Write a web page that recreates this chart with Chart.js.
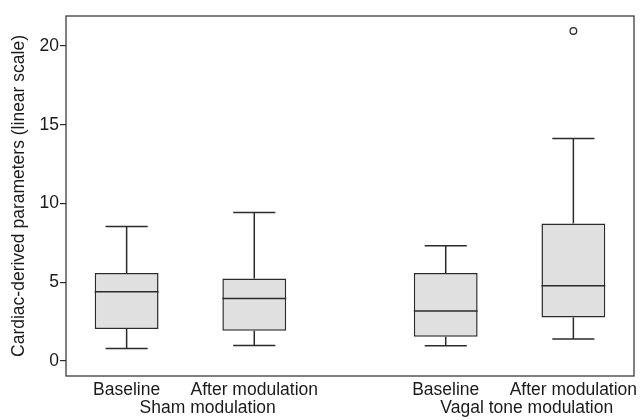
<!DOCTYPE html>
<html>
<head>
<meta charset="utf-8">
<script src="https://cdn.jsdelivr.net/npm/chart.js@4.4.0/dist/chart.umd.min.js"></script>
<style>
  html, body { margin: 0; padding: 0; background: #fff; }
  #wrap { width: 642px; height: 420px; }
</style>
</head>
<body>
<div id="wrap"><canvas id="boxChart"></canvas></div>
<script>
// categories and their position on the x axis
const categories = ['Baseline', 'After modulation', 'Baseline', 'After modulation'];
const xPositions = [1, 2, 3.5, 4.5];
const groupLabels = ['Sham modulation', 'Vagal tone modulation'];
const groupPositions = [1.635, 4.135];

// box plot statistics
const whiskerLow = [0.80, 0.99, 0.97, 1.40];
const q1 = [2.03, 1.92, 1.54, 2.77];
const median = [4.39, 3.97, 3.17, 4.78];
const q3 = [5.58, 5.24, 5.58, 8.73];
const whiskerHigh = [8.54, 9.43, 7.31, 14.12];
const outlierX = [4.5];
const outlierY = [20.95];

const yTicks = [0, 5, 10, 15, 20];

const INK = '#2b2b2b';
const FONT = "'Liberation Sans', Arial, sans-serif";

Chart.defaults.font.family = FONT;
Chart.defaults.font.size = 17.5;
Chart.defaults.color = '#1a1a1a';

// whiskers, caps, medians and the frame round the plot area
const boxPlotExtras = {
    id: 'boxPlotExtras',
    afterDatasetsDraw(chart) {
        const { ctx, chartArea, scales: { x, y } } = chart;
        const meta = chart.getDatasetMeta(0);
        const capHalf = (x.getPixelForValue(0.33) - x.getPixelForValue(0)) / 2;

        ctx.save();
        ctx.strokeStyle = INK;
        ctx.lineWidth = 1.5;
        ctx.lineCap = 'butt';

        xPositions.forEach((pos, i) => {
            const xc = x.getPixelForValue(pos);
            const bar = meta.data[i];
            const half = bar.width / 2;

            ctx.beginPath();
            // upper whisker
            ctx.moveTo(xc, y.getPixelForValue(q3[i]));
            ctx.lineTo(xc, y.getPixelForValue(whiskerHigh[i]));
            ctx.moveTo(xc - capHalf, y.getPixelForValue(whiskerHigh[i]));
            ctx.lineTo(xc + capHalf, y.getPixelForValue(whiskerHigh[i]));
            // lower whisker
            ctx.moveTo(xc, y.getPixelForValue(q1[i]));
            ctx.lineTo(xc, y.getPixelForValue(whiskerLow[i]));
            ctx.moveTo(xc - capHalf, y.getPixelForValue(whiskerLow[i]));
            ctx.lineTo(xc + capHalf, y.getPixelForValue(whiskerLow[i]));
            // median
            ctx.moveTo(xc - half, y.getPixelForValue(median[i]));
            ctx.lineTo(xc + half, y.getPixelForValue(median[i]));
            ctx.stroke();
        });

        // frame
        ctx.lineWidth = 1.2;
        ctx.strokeRect(chartArea.left, chartArea.top,
            chartArea.right - chartArea.left, chartArea.bottom - chartArea.top);

        // group labels under the tick labels
        ctx.fillStyle = '#1a1a1a';
        ctx.font = '17.5px ' + FONT;
        ctx.textAlign = 'center';
        ctx.textBaseline = 'middle';
        groupLabels.forEach((label, i) => {
            ctx.fillText(label, x.getPixelForValue(groupPositions[i]), chartArea.bottom + 32);
        });
        ctx.restore();
    }
};

const boxData = xPositions.map((pos, i) => ({ x: pos, y: [q1[i], q3[i]] }));
const outlierData = outlierX.map((v, i) => ({ x: v, y: outlierY[i] }));

new Chart(document.getElementById('boxChart'), {
    type: 'bar',
    data: {
        datasets: [
            {
                type: 'bar',
                data: boxData,
                backgroundColor: '#e0e0e0',
                borderColor: INK,
                borderWidth: 1.5,
                borderSkipped: false,
                barPercentage: 1,
                categoryPercentage: 0.5
            },
            {
                type: 'scatter',
                data: outlierData,
                pointRadius: 3.3,
                pointBackgroundColor: '#fff',
                pointBorderColor: INK,
                pointBorderWidth: 1.3
            }
        ]
    },
    options: {
        responsive: true,
        maintainAspectRatio: false,
        animation: false,
        layout: { padding: { top: 16, right: 8, left: 0, bottom: 0 } },
        plugins: {
            legend: { display: false },
            tooltip: { enabled: false }
        },
        scales: {
            x: {
                type: 'linear',
                min: 0.525,
                max: 4.975,
                offset: false,
                grid: { display: false, drawTicks: false },
                border: { display: false },
                afterBuildTicks: (scale) => {
                    scale.ticks = xPositions.map(v => ({ value: v }));
                },
                afterFit: (scale) => { scale.height = 44; },
                ticks: {
                    autoSkip: false,
                    maxRotation: 0,
                    padding: 4,
                    color: '#1a1a1a',
                    callback: (value) => categories[xPositions.indexOf(value)]
                }
            },
            y: {
                min: -0.95,
                max: 21.9,
                grid: {
                    drawOnChartArea: false,
                    drawTicks: true,
                    tickLength: 6,
                    color: INK,
                    lineWidth: 1.2
                },
                border: { display: false },
                afterBuildTicks: (scale) => {
                    scale.ticks = yTicks.map(v => ({ value: v }));
                },
                afterFit: (scale) => { scale.width = 66; },
                ticks: { padding: 1, color: '#1a1a1a' },
                title: {
                    display: true,
                    text: 'Cardiac-derived parameters (linear scale)',
                    color: '#1a1a1a',
                    padding: { top: 9, bottom: 0 }
                }
            }
        }
    },
    plugins: [boxPlotExtras]
});
</script>
</body>
</html>
